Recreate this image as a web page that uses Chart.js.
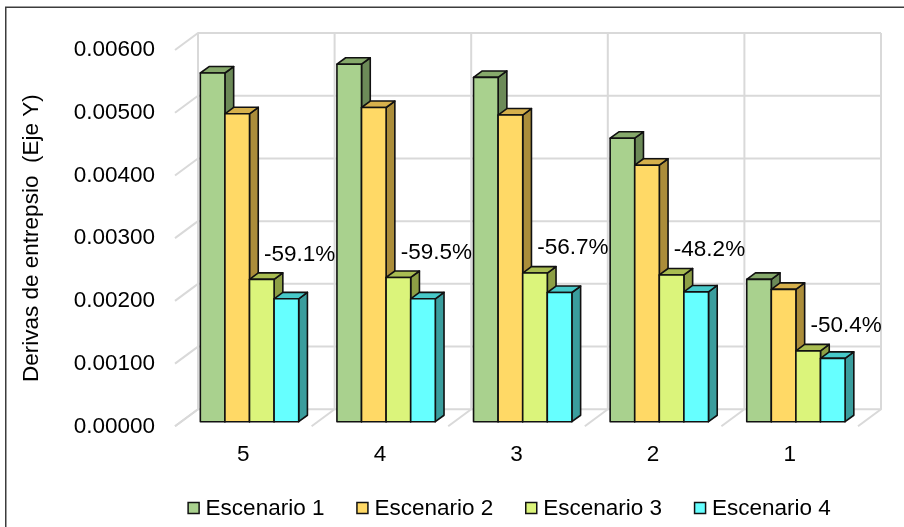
<!DOCTYPE html>
<html>
<head>
<meta charset="utf-8">
<script src="https://cdn.jsdelivr.net/npm/chart.js@4.4.0/dist/chart.umd.min.js"></script>
<style>
  html, body { margin: 0; padding: 0; background: #fff; }
  canvas { display: block; }
</style>
</head>
<body>
<canvas id="c" width="904" height="527"></canvas>
<script>
// Storey drifts per scenario (Y axis), storeys listed from 5 down to 1
const categories = ['5', '4', '3', '2', '1'];
const seriesNames = ['Escenario 1', 'Escenario 2', 'Escenario 3', 'Escenario 4'];
const escenario1 = [0.00556, 0.00570, 0.00549, 0.00452, 0.00227];
const escenario2 = [0.00491, 0.00501, 0.00489, 0.00409, 0.00211];
const escenario3 = [0.00227, 0.00230, 0.00237, 0.00234, 0.00113];
const escenario4 = [0.00196, 0.00196, 0.00206, 0.00207, 0.00101];
const reductionLabels = ['-59.1%', '-59.5%', '-56.7%', '-48.2%', '-50.4%'];
const yMin = 0, yMax = 0.006, yStep = 0.001;

// front / top / side shades of each box
const faces = [
  { front: '#a9d18e', top: '#86a96b', side: '#6c8a58' },
  { front: '#ffd966', top: '#d6b04c', side: '#ab8d3a' },
  { front: '#dbf47b', top: '#a9bd52', side: '#8d9f45' },
  { front: '#66ffff', top: '#47c9c9', side: '#3a9d9d' }
];

const FONT = "'Liberation Sans', Arial, sans-serif";
const FONT_SIZE = 22.5;
const DEPTH_X = 23, DEPTH_Y = 17;      // oblique offset of the full floor depth
const BAR_Z0 = 0.27, BAR_Z1 = 0.65;    // depth span occupied by the boxes

function proj(x, y, z) { return [x + z * DEPTH_X, y - z * DEPTH_Y]; }

function poly(ctx, pts, fill) {
  ctx.beginPath();
  ctx.moveTo(pts[0][0], pts[0][1]);
  for (let i = 1; i < pts.length; i++) ctx.lineTo(pts[i][0], pts[i][1]);
  ctx.closePath();
  ctx.fillStyle = fill;
  ctx.fill();
  ctx.stroke();
}

const box3d = {
  id: 'box3d',
  beforeDraw(chart) {
    const ctx = chart.ctx;
    ctx.save();
    ctx.fillStyle = '#fff';
    ctx.fillRect(0, 0, chart.width, chart.height);
    ctx.strokeStyle = '#3c3c3c';
    ctx.lineWidth = 1.5;
    ctx.strokeRect(5.75, 7.25, chart.width + 40, chart.height + 40);
    ctx.restore();
  },
  beforeDatasetsDraw(chart) {
    const { ctx, scales: { x, y } } = chart;
    const n = categories.length;
    const cw = (x.right - x.left) / n;
    const y0 = y.getPixelForValue(yMin);
    const yTop = y.getPixelForValue(yMax);
    ctx.save();
    ctx.strokeStyle = '#d9d9d9';
    ctx.lineWidth = 2;
    ctx.lineJoin = 'round';
    // side wall + back wall horizontal lines
    y.ticks.forEach(t => {
      const py = y.getPixelForValue(t.value);
      const a = proj(x.left, py, 1), b = proj(x.right, py, 1);
      ctx.beginPath();
      ctx.moveTo(x.left, py);
      ctx.lineTo(a[0], a[1]);
      ctx.lineTo(b[0], b[1]);
      ctx.stroke();
    });
    // floor and back wall category dividers
    for (let k = 0; k <= n; k++) {
      const bx = x.left + k * cw;
      const a = proj(bx, y0, 1), b = proj(bx, yTop, 1);
      ctx.beginPath();
      ctx.moveTo(bx, y0);
      ctx.lineTo(a[0], a[1]);
      ctx.lineTo(b[0], b[1]);
      ctx.stroke();
    }
    ctx.restore();
  },
  beforeDatasetDraw() {
    return false; // boxes are drawn together below, category by category
  },
  afterDatasetsDraw(chart) {
    const ctx = chart.ctx;
    const metas = chart.data.datasets.map((d, i) => chart.getDatasetMeta(i));
    ctx.save();
    ctx.strokeStyle = '#111';
    ctx.lineWidth = 1.6;
    ctx.lineJoin = 'round';
    for (let c = 0; c < categories.length; c++) {
      metas.forEach((m, di) => {
        const el = m.data[c];
        const { x, y, base, width } = el.getProps(['x', 'y', 'base', 'width'], true);
        const l = x - width / 2, r = x + width / 2;
        const f = faces[di];
        // side face
        poly(ctx, [proj(r, y, BAR_Z0), proj(r, y, BAR_Z1), proj(r, base, BAR_Z1), proj(r, base, BAR_Z0)], f.side);
        // top face
        poly(ctx, [proj(l, y, BAR_Z0), proj(l, y, BAR_Z1), proj(r, y, BAR_Z1), proj(r, y, BAR_Z0)], f.top);
        // front face
        poly(ctx, [proj(l, y, BAR_Z0), proj(r, y, BAR_Z0), proj(r, base, BAR_Z0), proj(l, base, BAR_Z0)], f.front);
      });
    }
    // reduction labels next to the Escenario 3 / 4 boxes
    ctx.fillStyle = '#000';
    ctx.font = FONT_SIZE + 'px ' + FONT;
    ctx.textAlign = 'center';
    ctx.textBaseline = 'middle';
    for (let c = 0; c < categories.length; c++) {
      const e3 = metas[2].data[c].getProps(['x', 'y', 'width'], true);
      const e4 = metas[3].data[c].getProps(['x', 'y', 'width'], true);
      const p = proj(e4.x + e4.width / 2, e3.y, BAR_Z0);
      ctx.fillText(reductionLabels[c], p[0] + 1, p[1] - 25);
    }
    ctx.restore();
  },
  afterDraw(chart) {
    // legend row
    const ctx = chart.ctx;
    ctx.save();
    ctx.font = FONT_SIZE + 'px ' + FONT;
    ctx.textBaseline = 'middle';
    ctx.textAlign = 'left';
    const box = 11, gap = 6.5, spacing = 32.5;
    const items = chart.data.datasets.map(d => ({ text: d.label, color: d.backgroundColor, w: ctx.measureText(d.label).width }));
    const total = items.reduce((s, it) => s + box + gap + it.w, 0) + spacing * (items.length - 1);
    let lx = 509.5 - total / 2;
    const ly = 508;
    items.forEach(it => {
      ctx.fillStyle = it.color;
      ctx.fillRect(lx, ly - box / 2, box, box);
      ctx.strokeStyle = '#111';
      ctx.lineWidth = 1.5;
      ctx.strokeRect(lx, ly - box / 2, box, box);
      ctx.fillStyle = '#000';
      ctx.fillText(it.text, lx + box + gap, ly + 1);
      lx += box + gap + it.w + spacing;
    });
    ctx.restore();
  }
};

const seriesValues = [escenario1, escenario2, escenario3, escenario4];

new Chart(document.getElementById('c'), {
  type: 'bar',
  data: {
    labels: categories,
    datasets: seriesNames.map((name, i) => ({
      label: name,
      data: seriesValues[i],
      backgroundColor: faces[i].front,
      borderColor: '#111',
      borderWidth: 1,
      categoryPercentage: 0.72,
      barPercentage: 1.0
    }))
  },
  options: {
    responsive: false,
    animation: false,
    devicePixelRatio: 1,
    layout: { padding: { left: 0, top: 50, right: 46, bottom: 0 } },
    plugins: {
      legend: { display: false },
      tooltip: { enabled: false }
    },
    scales: {
      x: {
        grid: { display: false, drawTicks: false },
        border: { display: false },
        ticks: { color: '#000', font: { family: FONT, size: FONT_SIZE }, padding: 15 },
        afterFit(s) { s.height = 100.7; }
      },
      y: {
        min: yMin,
        max: yMax,
        grid: { display: false, drawTicks: false },
        border: { display: false },
        ticks: {
          stepSize: yStep,
          color: '#000',
          font: { family: FONT, size: FONT_SIZE },
          padding: 20,
          callback: v => Number(v).toFixed(5)
        },
        title: {
          display: true,
          text: 'Derivas de entrepsio  (Eje Y)',
          color: '#000',
          font: { family: FONT, size: FONT_SIZE },
          padding: { top: 18, bottom: 0 }
        },
        afterFit(s) { s.width = 175; }
      }
    }
  },
  plugins: [box3d]
});
</script>
</body>
</html>
